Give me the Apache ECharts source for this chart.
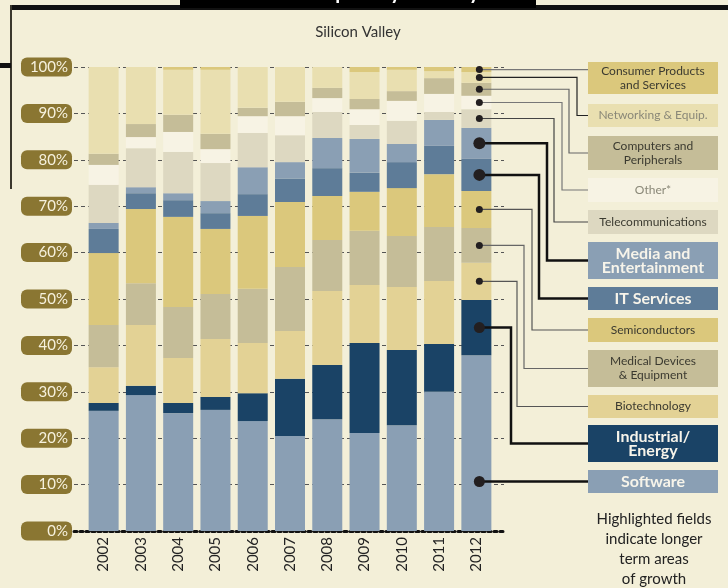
<!DOCTYPE html>
<html>
<head>
<meta charset="utf-8">
<script src="https://cdn.jsdelivr.net/npm/echarts@6/dist/echarts.min.js"></script>
<style>
html, body { margin: 0; padding: 0; background: #f3efd8; }
#main { width: 728px; height: 588px; }
</style>
</head>
<body>
<div id="main"></div>
<script>
// 数据 (share of VC investment, %)
const years = ['2002', '2003', '2004', '2005', '2006', '2007', '2008', '2009', '2010', '2011', '2012'];
const software   = [25.9, 29.3, 25.4, 26.1, 23.7, 20.5, 24.1, 21.1, 22.8, 30.0, 37.9];
const industrial = [1.7, 2.0, 2.2, 2.8, 6.0, 12.3, 11.7, 19.4, 16.2, 10.3, 11.9];
const biotech    = [7.7, 13.1, 9.7, 12.5, 10.8, 10.3, 15.9, 12.5, 13.6, 13.6, 8.0];
const medical    = [9.1, 9.0, 11.0, 9.7, 11.7, 13.8, 11.0, 11.7, 11.0, 11.6, 7.5];
const semis      = [15.5, 16.0, 19.4, 14.0, 15.7, 14.0, 9.5, 8.4, 10.3, 11.4, 8.0];
const itServices = [5.2, 3.4, 3.6, 3.4, 4.7, 5.0, 6.0, 4.1, 5.6, 6.1, 6.9];
const media      = [1.3, 1.3, 1.5, 2.6, 5.8, 3.6, 6.5, 7.3, 3.9, 5.6, 6.7];
const telecom    = [8.2, 8.4, 8.9, 8.2, 7.4, 5.8, 5.6, 3.0, 5.0, 1.7, 4.0];
const other      = [4.3, 2.4, 4.3, 3.0, 3.6, 4.1, 3.0, 3.4, 4.3, 3.9, 2.9];
const computers  = [2.4, 2.8, 3.7, 3.3, 1.8, 3.1, 2.2, 2.2, 2.1, 3.4, 2.8];
const networking = [18.7, 12.3, 9.7, 13.8, 8.8, 7.5, 4.5, 5.8, 4.6, 1.5, 2.3];
const consumer   = [0, 0, 0.6, 0.6, 0, 0, 0, 1.1, 0.6, 0.9, 1.1];
const yTicks = [0, 10, 20, 30, 40, 50, 60, 70, 80, 90, 100];

const FONT = 'Lato';

// 图层 (bottom -> top), legend box layout
const layers = [
    { name: 'Software', data: software, color: '#8a9fb4', text: ['Software'], bold: true, box: [470, 23], line: null, lw: 2.5, lc: '#111', r: 5.5 },
    { name: 'Industrial/ Energy', data: industrial, color: '#1a4366', text: ['Industrial/', 'Energy'], bold: true, box: [425, 37], line: 511, lw: 2.5, lc: '#111', r: 5.5 },
    { name: 'Biotechnology', data: biotech, color: '#e3d295', text: ['Biotechnology'], box: [395, 23], line: 517, lw: 1.2, lc: '#555', r: 3.5 },
    { name: 'Medical Devices & Equipment', data: medical, color: '#c5bd98', text: ['Medical Devices', '& Equipment'], box: [350, 37], line: 524, lw: 1.2, lc: '#666', r: 3.5 },
    { name: 'Semiconductors', data: semis, color: '#dbc87c', text: ['Semiconductors'], box: [318, 24], line: 532, lw: 1.2, lc: '#555', r: 3.5 },
    { name: 'IT Services', data: itServices, color: '#5e7c98', text: ['IT Services'], bold: true, box: [287, 23], line: 539, lw: 2.5, lc: '#111', r: 6 },
    { name: 'Media and Entertainment', data: media, color: '#8a9fb4', text: ['Media and', 'Entertainment'], bold: true, box: [242, 37], line: 547, lw: 2.5, lc: '#111', r: 6 },
    { name: 'Telecommunications', data: telecom, color: '#ddd8c1', text: ['Telecommunications'], box: [210, 24], line: 554, lw: 1.2, lc: '#444', r: 3.5 },
    { name: 'Other*', data: other, color: '#f7f3e4', text: ['Other*'], faded: true, box: [178, 24], line: 562, lw: 1.2, lc: '#777', r: 3.5 },
    { name: 'Computers and Peripherals', data: computers, color: '#c5bd98', text: ['Computers and', 'Peripherals'], box: [136, 34], line: 569, lw: 1.2, lc: '#666', r: 3.5 },
    { name: 'Networking & Equip.', data: networking, color: '#e9dfb0', text: ['Networking & Equip.'], faded: true, box: [104, 23], line: 577, lw: 1.2, lc: '#222', r: 3.5 },
    { name: 'Consumer Products and Services', data: consumer, color: '#dbc87c', text: ['Consumer Products', 'and Services'], box: [62, 32], line: null, lw: 1.2, lc: '#777', r: 3.5 }
];

var myChart = echarts.init(document.getElementById('main'));

myChart.setOption({
    backgroundColor: '#f3efd8',
    animation: false,
    grid: [
        { left: 74, right: 224, top: 67, bottom: 57 }, // 网格线和刻度
        { left: 85, right: 233, top: 67, bottom: 57 }  // 柱子
    ],
    xAxis: [
        {
            gridIndex: 0, type: 'value', min: 0, max: 1,
            axisLine: { show: true, lineStyle: { color: '#111', width: 3, type: [3, 3] } },
            axisTick: { show: false }, axisLabel: { show: false }, splitLine: { show: false }
        },
        {
            gridIndex: 1, type: 'category', data: years,
            axisLine: { show: false }, axisTick: { show: false },
            axisLabel: { rotate: 90, margin: 6, fontSize: 15, color: '#222', fontFamily: FONT }
        }
    ],
    yAxis: [
        {
            gridIndex: 0, type: 'value', min: 0, max: 100, interval: 10,
            axisLine: { show: false }, axisTick: { show: false },
            splitLine: { lineStyle: { color: '#555', width: 1, type: [4, 3] } },
            axisLabel: {
                formatter: '{value}%', margin: 2, fontSize: 15, color: '#f6f1dd', fontFamily: FONT,
                backgroundColor: '#8a7632', borderRadius: 6, padding: [2, 4, 2, 4], width: 43, align: 'right'
            }
        },
        {
            gridIndex: 1, type: 'value', min: 0, max: 100, show: false
        }
    ],
    series: layers.map((l) => ({
        name: l.name,
        type: 'bar',
        stack: 'all',
        xAxisIndex: 1,
        yAxisIndex: 1,
        barWidth: 30,
        itemStyle: { color: l.color },
        data: l.data
    }))
});

// 标注和图例框
const g = [];
g.push({ type: 'rect', shape: { x: 10, y: 5, width: 718, height: 5 }, style: { fill: '#111' }, z: 50 });
g.push({ type: 'rect', shape: { x: 180, y: -20, width: 356, height: 28 }, style: { fill: '#000' }, z: 51 });
g.push({ type: 'text', x: 358, y: -7, style: { text: 'Venture Capital by Industry', fill: '#fff', font: 'bold 20px ' + FONT, align: 'center', verticalAlign: 'middle' }, z: 52 });
g.push({ type: 'rect', shape: { x: 10, y: 5, width: 2, height: 184 }, style: { fill: '#3a372c' }, z: 50 });
g.push({ type: 'rect', shape: { x: 0, y: 63, width: 11, height: 5 }, style: { fill: '#111' }, z: 50 });
g.push({ type: 'text', x: 358, y: 32, style: { text: 'Silicon Valley', fill: '#333', font: '15px ' + FONT, align: 'center', verticalAlign: 'middle' }, z: 50 });

const BOX_X = 588, BOX_W = 130;
const last = years.length - 1;
let cum = 0;
layers.forEach((l) => {
    const v = l.data[last];
    const mid = cum + v / 2;
    cum += v;
    const p = myChart.convertToPixel({ gridIndex: 1 }, [years[last], mid]);
    const dx = p[0] + 3;
    const bx = l.box[0], bh = l.box[1];
    const by = bx + bh / 2;
    let dy = p[1];
    let pts;
    if (l.line === null) {
        if (l.name === 'Software') dy = by; // 指向框的中心
        pts = [[dx, dy], [BOX_X, dy]];
    } else {
        pts = [[dx, dy], [l.line, dy], [l.line, by], [BOX_X, by]];
    }
    g.push({ type: 'polyline', shape: { points: pts }, style: { stroke: l.lc, lineWidth: l.lw, fill: null }, z: 60 });
    g.push({ type: 'circle', shape: { cx: dx, cy: dy, r: l.r }, style: { fill: '#231f20' }, z: 61 });

    // box
    g.push({ type: 'rect', shape: { x: BOX_X, y: bx, width: BOX_W, height: bh }, style: { fill: l.color }, z: 55 });
    const fill = l.bold ? '#f7f4ea' : (l.faded ? '#8a8878' : '#3b3a30');
    const font = l.bold ? 'bold 16px ' + FONT : '12px ' + FONT;
    const lh = l.bold ? 14 : 14;
    g.push({
        type: 'text', x: BOX_X + BOX_W / 2, y: by, z: 56,
        style: { text: l.text.join('\n'), fill: fill, font: font, lineHeight: lh, align: 'center', verticalAlign: 'middle' }
    });
});

g.push({
    type: 'text', x: 654, y: 549, z: 50,
    style: { text: 'Highlighted fields\nindicate longer\nterm areas\nof growth', fill: '#222', font: '15px ' + FONT, lineHeight: 20, align: 'center', verticalAlign: 'middle' }
});

myChart.setOption({ graphic: { elements: g } });
</script>
</body>
</html>
